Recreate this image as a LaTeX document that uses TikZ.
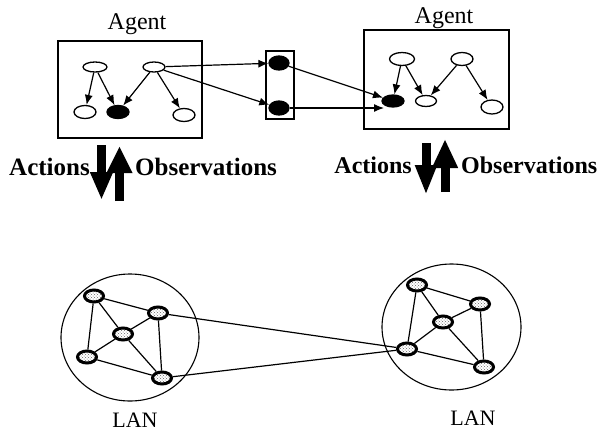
\documentclass[tikz,border=0pt]{standalone}
\usepackage{fontspec}
\setmainfont{Liberation Serif}
\usetikzlibrary{arrows.meta}
\usetikzlibrary{shapes.geometric}
\usetikzlibrary{patterns}

\begin{document}
\begin{tikzpicture}[x=1pt,y=-1pt,>={Latex[length=10pt,width=8pt]},
	var/.style={draw,ellipse,line width=1.3pt,inner sep=0pt,minimum width=22pt,minimum height=12pt},
	obs/.style={var,fill=black},
	host/.style={draw,ellipse,line width=3pt,inner sep=0pt,minimum width=19pt,minimum height=12pt,
		preaction={fill=white},pattern=crosshatch dots,pattern color=gray!80!black},
	agentbox/.style={draw,rectangle,line width=1.3pt,inner sep=0pt},
	lan/.style={draw,ellipse,line width=1.1pt,inner sep=0pt},
	nametext/.style={font=\fontsize{24}{26}\selectfont,inner sep=0pt,anchor=base},
	iotext/.style={font=\fontsize{25}{27}\selectfont\bfseries,inner sep=0pt},
	bigarrow/.style={line width=9pt}]

	\useasboundingbox (0,0) rectangle (602,434);

	% left agent
	\node[agentbox,minimum width=144pt,minimum height=97pt] (agentL) at (130,89.5) {};
	\node[nametext] (agentLname) at (137,29) {Agent};
	\node[var,minimum width=24pt,minimum height=10pt] (a1) at (95,67) {};
	\node[var,minimum height=10pt] (a2) at (154,67) {};
	\node[var,minimum height=13pt] (a3) at (85,112) {};
	\node[obs,minimum height=13pt] (a4) at (118,112) {};
	\node[var,minimum height=13pt] (a5) at (184,115) {};

	% shared observations
	\node[agentbox,minimum width=28pt,minimum height=68pt] (obsbox) at (280,85) {};
	\node[obs,minimum width=20pt,minimum height=14pt] (b1) at (279,63) {};
	\node[obs,minimum width=20pt,minimum height=14pt] (b2) at (279,108) {};

	% right agent
	\node[agentbox,minimum width=145pt,minimum height=99pt] (agentR) at (436.5,79.5) {};
	\node[nametext] (agentRname) at (444,23) {Agent};
	\node[var,minimum width=25pt,minimum height=13pt] (c1) at (402,59) {};
	\node[var,minimum height=13pt] (c2) at (462,59) {};
	\node[obs,minimum height=12pt] (c3) at (393,101) {};
	\node[var,minimum width=21pt,minimum height=11pt] (c4) at (426,101) {};
	\node[var,minimum height=14pt] (c5) at (492,107) {};
	\coordinate (cin) at (384,108);

	\path[->,line width=1.2pt] (a1) edge (a3)
	                                  edge (a4)
	                           (a2) edge (a4)
	                                  edge (a5)
	                                  edge (b1)
	                                  edge (b2)
	                           (b1) edge (c3)
	                           (b2) edge (cin)
	                           (c1) edge (c3)
	                                  edge (c4)
	                           (c2) edge (c4)
	                                  edge (c5);

	% actions / observations
	\coordinate (actLs) at (101.5,145);
	\coordinate (actLe) at (101.5,200);
	\coordinate (obsLs) at (119.5,201);
	\coordinate (obsLe) at (119.5,146);
	\coordinate (actRs) at (426,143);
	\coordinate (actRe) at (426,195);
	\coordinate (obsRs) at (445,192);
	\coordinate (obsRe) at (445,139);
	\draw[bigarrow,-{Triangle[length=28pt,width=21pt]}] (actLs) -- (actLe);
	\draw[bigarrow,-{Triangle[length=27pt,width=24pt]}] (obsLs) -- (obsLe);
	\draw[bigarrow,-{Triangle[length=30pt,width=20pt]}] (actRs) -- (actRe);
	\draw[bigarrow,-{Triangle[length=29pt,width=24pt]}] (obsRs) -- (obsRe);
	\node[iotext,anchor=base east] (actLtext) at (90,175) {Actions};
	\node[iotext,anchor=base west] (obsLtext) at (135,175) {Observations};
	\node[iotext,anchor=base east,font=\fontsize{24}{26}\selectfont\bfseries] (actRtext) at (412,173) {Actions};
	\node[iotext,anchor=base west,font=\fontsize{24}{26}\selectfont\bfseries] (obsRtext) at (461,173) {Observations};

	% networks
	\node[lan,minimum width=138pt,minimum height=127pt] (lanL) at (130,337.5) {};
	\node[lan,minimum width=139pt,minimum height=126pt] (lanR) at (451.5,327) {};
	\node[nametext,font=\fontsize{22}{24}\selectfont] (lanLname) at (135,427) {LAN};
	\node[nametext,font=\fontsize{22}{24}\selectfont] (lanRname) at (473,425) {LAN};

	\node[host] (n1) at (94,296) {};
	\node[host] (n2) at (158,313) {};
	\node[host] (n3) at (123,334) {};
	\node[host] (n4) at (87,357) {};
	\node[host] (n5) at (162,378) {};
	\node[host] (m1) at (417,285) {};
	\node[host] (m2) at (480,304) {};
	\node[host] (m3) at (443,322) {};
	\node[host] (m4) at (407,349) {};
	\node[host] (m5) at (484,367) {};

	\path[-,line width=1.2pt] (n1) edge (n2)
	                                edge (n3)
	                                edge (n4)
	                          (n3) edge (n2)
	                                edge (n4)
	                                edge (n5)
	                          (n2) edge (n5)
	                                edge (m4)
	                          (n4) edge (n5)
	                          (n5) edge (m4)
	                          (m1) edge (m2)
	                                edge (m3)
	                                edge (m4)
	                          (m3) edge (m2)
	                                edge (m4)
	                                edge (m5)
	                          (m2) edge (m5)
	                          (m4) edge (m5);

\end{tikzpicture}
\end{document}
